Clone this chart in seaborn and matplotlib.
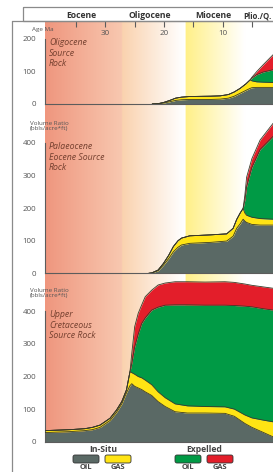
import numpy as np
import matplotlib
matplotlib.use("Agg")
import matplotlib.pyplot as plt
import matplotlib.transforms as mtransforms
from matplotlib.patches import FancyBboxPatch, Rectangle
from matplotlib.lines import Line2D
import seaborn as sns

sns.set_style("white")
plt.rcParams["font.family"] = ["Open Sans", "DejaVu Sans"]

W, H = 273, 472

# ---- time scale ----
epochs = ["Eocene", "Oligocene", "Miocene", "Plio./Q."]
age_ticks = [35, 30, 25, 20, 15, 10, 5]
age_labels = ["", "30", "", "20", "", "10", ""]
band_eocene = (40.3, 27.2)
band_oligocene = (27.2, 16.8)
band_miocene = (16.4, 6.3)

# ---- Oligocene source rock (volume ratio, layer thickness) ----
ages_olig = [22.0, 21.0, 20.0, 19.0, 18.0, 17.0, 15.6, 12.0, 10.4, 9.0, 8.0,
             7.0, 6.0, 5.3, 5.0, 4.2, 3.1, 1.4, 0.0]
insitu_oil_olig = [0, 1, 3, 7, 11, 13, 14, 14, 15, 18, 24, 33, 42, 48, 50, 51, 51, 51, 51]
insitu_gas_olig = [0, 0, 2, 4, 7, 8, 9, 10, 10, 11, 13, 15, 20, 26, 21, 17, 16, 15, 15]
expelled_oil_olig = [0, 0, 0, 0, 0, 0, 0, 0, 0, 0, 0, 0, 0, 0, 9, 22, 31, 39, 44]
expelled_gas_olig = [0, 0, 0, 0, 0, 0, 0, 0, 0, 0, 0, 0, 0, 0, 2, 9, 22, 46, 58]

# ---- Palaeocene / Eocene source rock ----
ages_pal = [22.6, 22.1, 21.0, 20.1, 19.2, 18.4, 17.6, 17.0, 15.6, 12.0, 9.3,
            8.2, 7.6, 7.0, 6.5, 6.2, 5.9, 5.0, 3.6, 1.4, 0.0]
insitu_oil_pal = [0, 1, 8, 25, 45, 66, 80, 87, 92, 95, 99, 114, 138, 152, 166,
                  160, 156, 150, 148, 148, 148]
insitu_gas_pal = [0, 0, 2, 5, 10, 16, 20, 21, 23, 23, 22, 24, 27, 33, 33, 25,
                  22, 22, 20, 18, 17]
expelled_oil_pal = [0, 0, 0, 0, 0, 0, 0, 0, 0, 0, 0, 0, 0, 0, 0, 40, 88, 153,
                    212, 254, 275]
expelled_gas_pal = [0, 0, 0, 0, 0, 0, 0, 0, 0, 0, 0, 0, 0, 0, 0, 15, 29, 27,
                    29, 40, 45]

# ---- Upper Cretaceous source rock ----
ages_cret = [40.3, 36.0, 33.5, 32.2, 30.9, 29.2, 28.1, 27.2, 26.4, 25.8, 25.5,
             25.0, 24.4, 23.8, 23.2, 22.1, 21.0, 19.8, 18.1, 16.0, 13.0, 9.6,
             8.0, 6.2, 5.0, 3.0, 1.4, 0.0]
insitu_oil_cret = [28, 31, 34, 37, 44, 65, 90, 116, 150, 172, 178, 170, 165, 160,
                   153, 142, 123, 108, 92, 88, 88, 87, 78, 56, 44, 28, 15, 8]
insitu_gas_cret = [6, 6, 6, 7, 7, 7, 7, 7, 9, 43, 34, 37, 35, 36, 36, 33, 30, 27,
                   24, 22, 20, 20, 22, 26, 29, 38, 46, 50]
expelled_oil_cret = [0, 0, 0, 0, 0, 0, 0, 0, 0, 0, 28, 84, 130, 167, 191, 229,
                     260, 284, 304, 310, 311, 312, 318, 334, 341, 342, 343, 342]
expelled_gas_cret = [0, 0, 0, 0, 0, 0, 0, 0, 0, 0, 30, 62, 64, 57, 65, 61, 68,
                     68, 71, 71, 71, 72, 71, 68, 66, 67, 67, 68]

panel_names = ["Oligocene\nSource\nRock", "Palaeocene\nEocene Source\nRock",
               "Upper\nCretaceous\nSource Rock"]
layer_colors = ["#5a6965", "#ffe414", "#009a45", "#e31e2a"]
edge = "#3a3a28"
axis_col = "#5c5c5c"

AGE_L, AGE_R = 40.3, 0.0
X0, X1 = 45, 281.2          # pixel x of AGE_L and AGE_R
K = 0.3258                  # pixels per unit of volume ratio

fig = plt.figure(figsize=(W / 100, H / 100), dpi=100)


def box(x0, x1, ytop, ybot):
    return [x0 / W, 1 - ybot / H, (x1 - x0) / W, (ybot - ytop) / H]


# background epoch shading
ax_bg = fig.add_axes(box(X0, X1, 21, 441.7), zorder=0)
grid = np.linspace(AGE_L, AGE_R, 900)
img = np.ones((1, grid.size, 3))
for i, a in enumerate(grid):
    if band_eocene[1] <= a <= band_eocene[0]:
        t = (band_eocene[0] - a) / (band_eocene[0] - band_eocene[1])
        c = np.array([239, 150, 126]) * (1 - t) + np.array([248, 200, 176]) * t
    elif band_oligocene[1] <= a < band_oligocene[0]:
        t = (band_oligocene[0] - a) / (band_oligocene[0] - band_oligocene[1])
        c = np.array([250, 210, 174]) * (1 - t) + np.array([255, 255, 255]) * t
    elif band_miocene[1] <= a <= band_miocene[0]:
        t = (band_miocene[0] - a) / (band_miocene[0] - band_miocene[1])
        c = np.array([255, 240, 135]) * (1 - t) + np.array([255, 255, 255]) * t
    else:
        c = np.array([255, 255, 255])
    img[0, i] = c / 255
ax_bg.imshow(img, extent=(AGE_L, AGE_R, 0, 1), aspect="auto", interpolation="bilinear")
ax_bg.set_xlim(AGE_L, AGE_R)
ax_bg.set_ylim(0, 1)
for s in ax_bg.spines.values():
    s.set_visible(False)
ax_bg.set_xticks(age_ticks)
ax_bg.tick_params(axis="x", top=True, bottom=False, labeltop=False, labelbottom=False,
                  direction="in", length=4, width=0.8, color=axis_col)
ax_bg.set_yticks([])
tr = mtransforms.blended_transform_factory(ax_bg.transData, ax_bg.transAxes)
for a, lab in zip(age_ticks, age_labels):
    if lab:
        ax_bg.text(a, 1 - 12 / 420.7, lab, transform=tr, ha="center", va="center",
                   fontsize=5.8, color="#555555")


def draw_panel(ytop, ybot, ages, layers, yticks, xticks):
    ax = fig.add_axes(box(X0, X1, ytop, ybot), zorder=2)
    ax.patch.set_alpha(0)
    ages = np.asarray(ages, dtype=float)
    base = np.zeros(ages.size)
    tops = []
    for vals, col in zip(layers, layer_colors):
        top = base + np.asarray(vals, dtype=float)
        ax.fill_between(ages, base, top, color=col, lw=0, zorder=2)
        tops.append(top)
        base = top
    for top in tops:
        sns.lineplot(x=ages, y=top, ax=ax, color=edge, lw=0.6, zorder=3,
                     estimator=None, sort=False, legend=False)
    ax.set_xlim(AGE_L, AGE_R)
    ax.set_ylim(0, (ybot - ytop) / K)
    ax.spines["top"].set_visible(False)
    ax.spines["right"].set_visible(False)
    for s in ("left", "bottom"):
        ax.spines[s].set_color(axis_col)
        ax.spines[s].set_linewidth(0.8)
    ax.spines["left"].set_bounds(0, yticks[-1])
    ax.set_yticks(yticks)
    ax.tick_params(axis="y", direction="out", length=5, width=0.8, color=axis_col,
                   labelsize=5.7, labelcolor="#555555", pad=1.5)
    if xticks:
        ax.set_xticks(age_ticks)
        ax.tick_params(axis="x", direction="out", length=4, width=0.8,
                       color=axis_col, labelbottom=False)
    else:
        ax.set_xticks([])
    ax.set_xlabel("")
    ax.set_ylabel("")
    return ax


draw_panel(21, 104, ages_olig,
           [insitu_oil_olig, insitu_gas_olig, expelled_oil_olig, expelled_gas_olig],
           [0, 100, 200], True)
draw_panel(110, 273.3, ages_pal,
           [insitu_oil_pal, insitu_gas_pal, expelled_oil_pal, expelled_gas_pal],
           [0, 100, 200, 300, 400], True)
draw_panel(276, 441.7, ages_cret,
           [insitu_oil_cret, insitu_gas_cret, expelled_oil_cret, expelled_gas_cret],
           [0, 100, 200, 300, 400], False)

# overlay in pixel coordinates: frame, header, labels, legend
ov = fig.add_axes([0, 0, 1, 1], zorder=10)
ov.set_xlim(0, W)
ov.set_ylim(H, 0)
ov.axis("off")
ov.patch.set_alpha(0)

ov.add_line(Line2D([12, 12], [21, H + 5], color="#8a8a8a", lw=0.9))
ov.add_line(Line2D([12, W + 5], [21, 21], color="#8a8a8a", lw=0.9))
ov.add_patch(Rectangle((23, 7), W, 14, fill=False, ec="#8a8a8a", lw=0.9))

for name, x, ha, fs in zip(epochs, [81, 150, 213, 272],
                           ["center", "center", "center", "right"],
                           [6.2, 6.2, 6.2, 5.6]):
    ov.text(x, 15.5, name, ha=ha, va="center", fontsize=fs, fontweight="bold",
            color="#333333")

ov.text(43, 29, "Age Ma", ha="center", va="center", fontsize=4.5, color="#555555")
for y in (121, 288):
    ov.text(49, y, "Volume Ratio\n(bbls/acre*ft)", ha="center", va="top",
            fontsize=4.5, color="#555555", linespacing=0.95)

for name, y in zip(panel_names, [38, 142, 310]):
    ov.text(49, y, name, ha="left", va="top", fontsize=6.3, style="italic",
            color="#74402f", linespacing=1.25)

legend_groups = [("In-Situ", 103, [(73, layer_colors[0]), (105, layer_colors[1])]),
                 ("Expelled", 204, [(175, layer_colors[2]), (207, layer_colors[3])])]
for title, xc, swatches in legend_groups:
    ov.text(xc, 449, title, ha="center", va="center", fontsize=6.2,
            fontweight="bold", color="#444444")
    for (x, col), lab in zip(swatches, ["OIL", "GAS"]):
        ov.add_patch(FancyBboxPatch((x, 455), 26, 8,
                                    boxstyle="round,pad=0,rounding_size=2",
                                    fc=col, ec="#333333", lw=0.6))
        ov.text(x + 13, 467.8, lab, ha="center", va="center", fontsize=5.4,
                fontweight="bold", color="#444444")

fig.savefig("out.png", dpi=100)
